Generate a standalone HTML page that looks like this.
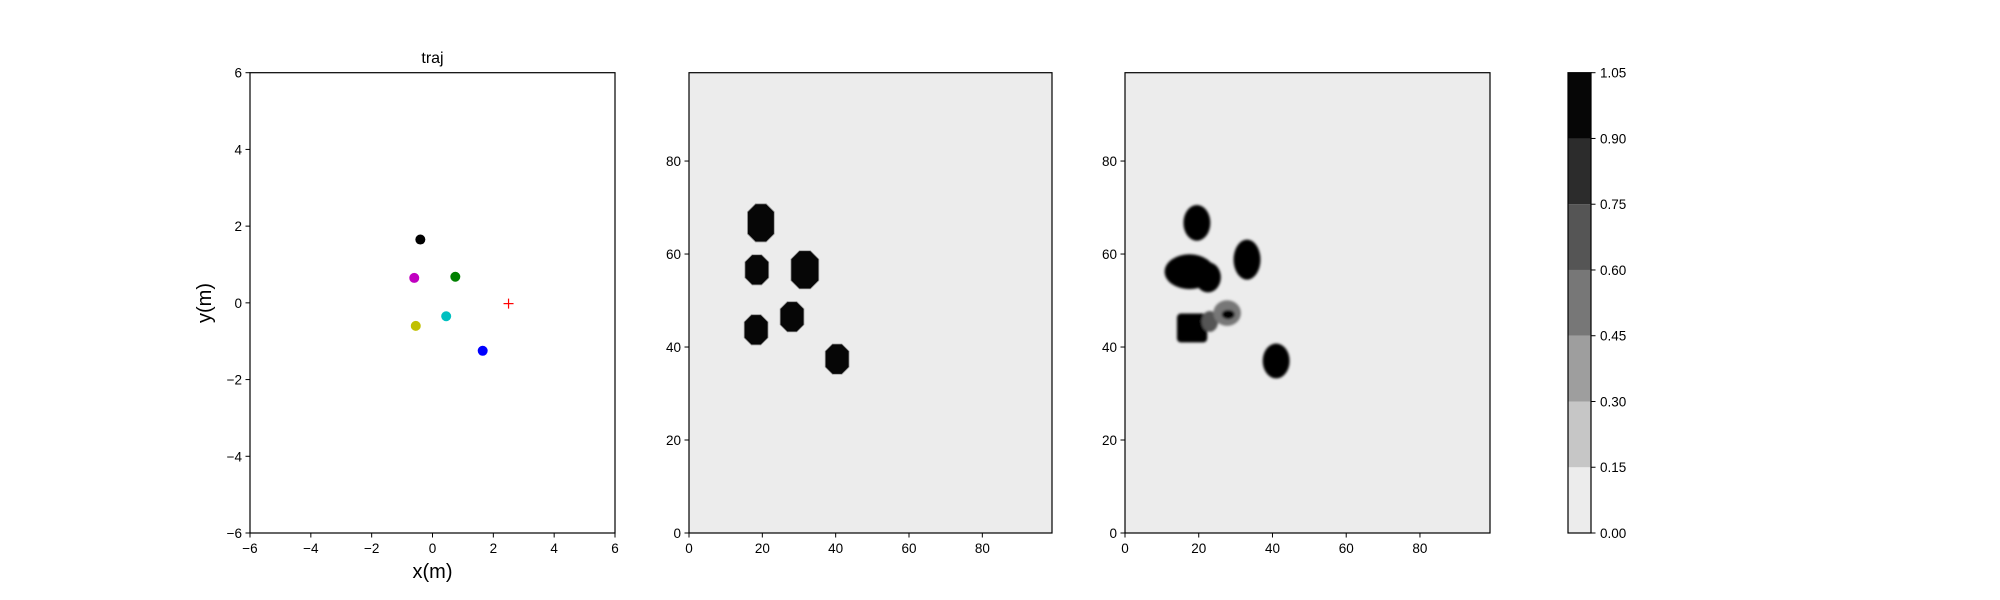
<!DOCTYPE html>
<html><head><meta charset="utf-8"><style>
body{margin:0;background:#fff}
svg{display:block;font-family:"Liberation Sans","DejaVu Sans",sans-serif}
</style></head><body>
<svg id="fig" width="2000" height="600" viewBox="0 0 2000 600">
<defs>
<filter id="soft" x="-50%" y="-50%" width="200%" height="200%"><feGaussianBlur stdDeviation="1.4"/></filter>
<clipPath id="c3"><rect x="1125" y="72.7" width="365" height="460.3"/></clipPath>
</defs>
</svg>
<script>
// ---- data ----
const trajX=[-0.4,-0.6,0.75,0.45,-0.55,1.65];
const trajY=[1.65,0.65,0.68,-0.35,-0.6,-1.25];
const trajColors=['#000000','#c000c0','#008000','#00c0c0','#c0c000','#0000ff'];
const goalX=[2.5], goalY=[-0.02];
const trajTicks=[-6,-4,-2,0,2,4,6];
const mapTicks=[0,20,40,60,80];
// map 1 blobs: centers, widths, heights (grid units)
const m1X=[19.6,18.5,31.6,28.1,18.3,40.4];
const m1Y=[66.7,56.6,56.6,46.5,43.7,37.4];
const m1W=[7.3,6.5,7.6,6.5,6.5,6.5];
const m1H=[8.2,6.5,8.2,6.5,6.5,6.5];
// map 2 blobs
const m2X=[19.5,33.1,17.5,22.5,18.2,23.0,27.7,41.0,28.0];
const m2Y=[66.7,58.8,56.2,55.0,44.1,45.5,47.3,37.0,47.0];
const m2W=[7.3,7.3,13.5,7,8.2,4.5,7.5,7.3,3.5];
const m2H=[7.7,8.6,7.5,6.5,6.2,4.5,5.5,7.5,2];
const m2V=[1,1,1,0.95,1,0.7,0.45,1,0.9];
const m2Shape=['e','e','e','e','r','e','e','e','e'];
const cbLevels=[0,0.15,0.30,0.45,0.60,0.75,0.90,1.05];
const cbColors=['#ececec','#c6c6c6','#9e9e9e','#777777','#555555','#2c2c2c','#060606'];
const cbTickLabels=['0.00','0.15','0.30','0.45','0.60','0.75','0.90','1.05'];

const NS='http://www.w3.org/2000/svg';
const svg=document.getElementById('fig');
function mk(tag,attrs,parent){const e=document.createElementNS(NS,tag);for(const k in attrs)e.setAttribute(k,attrs[k]);(parent||svg).appendChild(e);return e;}
const T=72.7,B=533;
function lin(d0,d1,r0,r1){return v=>r0+(v-d0)/(d1-d0)*(r1-r0);}
function fmt(v){return v<0?'\u2212'+(-v):String(v);}

function axes(L,R,xs,ys,ticks,name,bg){
  if(bg){const r=mk('rect',{x:L,y:T,width:R-L,height:B-T,fill:bg});}
  return {L,R,xs,ys,ticks,name};
}
function frame(a,xt,yt){
  const f=mk('rect',{x:a.L,y:T,width:a.R-a.L,height:B-T,fill:'none',stroke:'#000','stroke-width':1.2});
  
  xt.forEach(v=>{const x=a.xs(v);mk('line',{x1:x,x2:x,y1:B,y2:B+4.5,stroke:'#000','stroke-width':1});
    const t=mk('text',{x:x,y:B+20,'font-size':13.5,'text-anchor':'middle'});t.textContent=fmt(v);
    });
  yt.forEach(v=>{const y=a.ys(v);mk('line',{x1:a.L,x2:a.L-4.5,y1:y,y2:y,stroke:'#000','stroke-width':1});
    const t=mk('text',{x:a.L-8,y:y+5,'font-size':13.5,'text-anchor':'end'});t.textContent=fmt(v);
    });
}
function octagon(a,cx,cy,w,h,fill,parent){
  const x0=a.xs(cx-w/2),x1=a.xs(cx+w/2),y0=a.ys(cy+h/2),y1=a.ys(cy-h/2);
  const c=Math.min(x1-x0,y1-y0)*0.3;
  const pts=[[x0+c,y0],[x1-c,y0],[x1,y0+c],[x1,y1-c],[x1-c,y1],[x0+c,y1],[x0,y1-c],[x0,y0+c]].map(p=>p.join(',')).join(' ');
  return mk('polygon',{points:pts,fill:fill,stroke:'#999','stroke-width':0.8},parent);
}

// ---- panel 1: trajectory ----
const a1=axes(250,615,lin(-6,6,250,615),lin(-6,6,B,T),trajTicks,'traj-axes','#fff');
trajX.forEach((x,i)=>{const c=mk('circle',{cx:a1.xs(x),cy:a1.ys(trajY[i]),r:5,fill:trajColors[i]});
  });
goalX.forEach((x,i)=>{const g=mk('g',{});
  
  const px=a1.xs(x),py=a1.ys(goalY[i]);
  mk('line',{x1:px-5,x2:px+5,y1:py,y2:py,stroke:'#ff0000','stroke-width':1.2},g);
  mk('line',{x1:px,x2:px,y1:py-5,y2:py+5,stroke:'#ff0000','stroke-width':1.2},g);});
frame(a1,trajTicks,trajTicks);
let t=mk('text',{x:432.5,y:63,'font-size':16,'text-anchor':'middle'});t.textContent='traj';

t=mk('text',{x:432.5,y:578,'font-size':20,'text-anchor':'middle'});t.textContent='x(m)';

t=mk('text',{x:0,y:0,'font-size':20,'text-anchor':'middle',transform:'translate(211,303) rotate(-90)'});t.textContent='y(m)';


// ---- panel 2: map ----
const a2=axes(689,1052,lin(0,99,689,1052),lin(0,99,B,T),mapTicks,'map-axes','#ececec');
m1X.forEach((x,i)=>{const p=octagon(a2,x,m1Y[i],m1W[i],m1H[i],'#060606');
  });
frame(a2,mapTicks,mapTicks);

// ---- panel 3: predicted map ----
const a3=axes(1125,1490,lin(0,99,1125,1490),lin(0,99,B,T),mapTicks,'pred-map-axes','#ececec');
const g3=mk('g',{'clip-path':'url(#c3)'});

const gs=mk('g',{filter:'url(#soft)'},g3);
function grey(v){let k=0;for(let j=0;j<cbColors.length;j++)if(v>=cbLevels[j])k=j;return cbColors[k];}
m2X.forEach((x,i)=>{
  const w=(a3.xs(m2W[i])-a3.xs(0)),h=(a3.ys(0)-a3.ys(m2H[i]));
  let e;
  if(m2Shape[i]==='r') e=mk('rect',{x:a3.xs(x)-w/2,y:a3.ys(m2Y[i])-h/2,width:w,height:h,rx:4,fill:grey(m2V[i])},gs);
  else e=mk('ellipse',{cx:a3.xs(x),cy:a3.ys(m2Y[i]),rx:w/2,ry:h/2,fill:grey(m2V[i])},gs);
  });
frame(a3,mapTicks,mapTicks);

// ---- colorbar ----
const cb=axes(1568,1591,lin(0,1,1568,1591),lin(0,1.05,B,T),[], 'colorbar',null);
cbColors.forEach((c,i)=>{const y0=cb.ys(cbLevels[i+1]),y1=cb.ys(cbLevels[i]);
  const r=mk('rect',{x:1568,y:y0,width:23,height:y1-y0,fill:c});
  });
const cf=mk('rect',{x:1568,y:T,width:23,height:B-T,fill:'none',stroke:'#000','stroke-width':1.2});

cbLevels.forEach((v,i)=>{const y=cb.ys(v);mk('line',{x1:1591,x2:1595.5,y1:y,y2:y,stroke:'#000','stroke-width':1});
  const l=mk('text',{x:1600,y:y+5,'font-size':13.5});l.textContent=cbTickLabels[i];
  });
</script>
</body></html>
